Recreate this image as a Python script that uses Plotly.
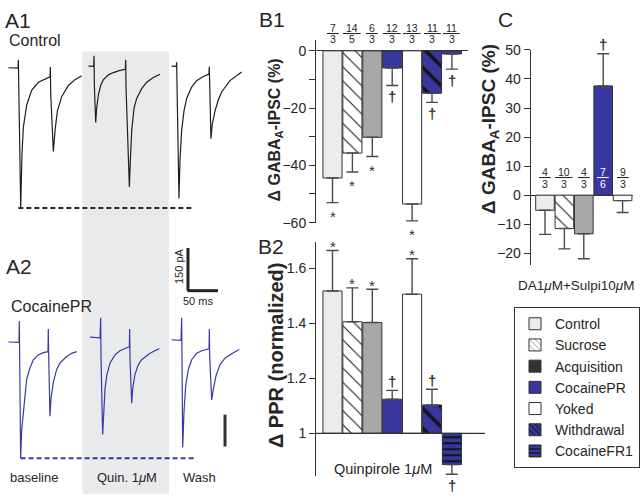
import plotly.graph_objects as go

W, H = 640, 502
def fx(px):
    return px / W
def fy(py):
    return 1 - py / H

FONT = "Liberation Sans, Arial, Helvetica, sans-serif"
TXT = "#262626"

# ------------------------------------------------------------------ data
GROUPS = ["Control", "Sucrose", "Acquisition", "CocainePR", "Yoked", "Withdrawal", "CocaineFR1"]

# B1: change of GABA-A IPSC by quinpirole (%)
B1_MEAN = [-44.4, -35.7, -30.2, -6.0, -53.5, -14.8, -1.1]
B1_SEM = [8.6, 6.6, 6.7, 6.1, 5.9, 3.2, 5.3]
B1_N = [("7", "3"), ("14", "5"), ("6", "3"), ("12", "3"), ("13", "3"), ("11", "3"), ("11", "3")]
B1_SIG = ["*", "*", "*", "†", "*", "†", "†"]

# B2: PPR normalized
B2_MEAN = [1.518, 1.406, 1.403, 1.124, 1.506, 1.103, 0.886]
B2_SEM = [0.147, 0.123, 0.121, 0.032, 0.129, 0.057, 0.035]
B2_SIG = ["*", "*", "*", "†", "*", "†", "†"]

# C: DA 1uM + sulpiride 10uM
C_GROUPS = ["Control", "Sucrose", "Acquisition", "CocainePR", "Yoked"]
C_MEAN = [-5.2, -11.5, -13.3, 37.6, -1.9]
C_SEM = [8.3, 7.0, 8.6, 11.1, 4.1]
C_N = [("4", "3"), ("10", "3"), ("4", "3"), ("7", "6"), ("9", "3")]
C_SIG = ["", "", "", "†", ""]

# A1 example sweeps (time in ms from first stimulus, current in pA)
A1_BASE_T = [-16.7, -0.6, 0, 0.6, 3.9, 6.1, 8.3, 13.9, 22.2, 33.3, 44.4, 52.8, 53.3, 53.9, 58.3, 61.1, 65.0, 72.2, 83.3, 94.4, 105.6]
A1_BASE_I = [0, -1.1, 28.4, -68.2, -494, -301, -210, -131, -79.5, -51.1, -39.8, -31.8, 2.3, -90.9, -295, -221.5, -153, -102, -62.5, -42.0, -28.4]
A1_QUIN_T = [-9.4, -0.6, 0, 0.6, 2.8, 4.4, 7.2, 11.1, 15.6, 23.9, 32.2, 43.3, 52.2, 52.8, 53.3, 56.1, 58.9, 60.6, 62.8, 66.7, 71.1, 79.4, 87.8, 98.9, 110.0]
A1_QUIN_I = [5.7, 4.5, 42.0, -62.5, -193, -142, -96.6, -62.5, -42.0, -25.0, -17.0, -9.1, -5.7, 28.4, -68.2, -244, -420, -324, -221.5, -142, -108, -73.8, -51.1, -34.1, -22.7]
A1_WASH_T = [-8.3, -0.6, 0, 0.6, 3.9, 5.6, 8.3, 12.2, 16.7, 25.0, 33.3, 44.4, 53.9, 54.4, 55.0, 57.2, 59.4, 63.9, 69.4, 75.0, 88.9, 100.0, 108.3]
A1_WASH_I = [5.7, 4.5, 19.3, -73.8, -460, -324, -221.5, -153, -108, -68.2, -45.4, -30.7, -22.7, 3.4, -85.2, -250, -199, -153, -113.6, -85.2, -45.4, -28.4, -14.8]

# A2 example sweeps (CocainePR)
A2_BASE_T = [-18.3, -0.6, 0, 0.6, 2.2, 3.9, 6.7, 9.4, 12.2, 17.8, 23.3, 31.7, 40.0, 47.8, 48.3, 48.9, 51.1, 52.8, 56.7, 62.2, 67.8, 78.9, 87.2, 95.6]
A2_BASE_I = [0, -1.1, 73.8, -62.5, -409, -312, -244, -176, -131, -91, -62.5, -45.4, -37.5, -34.1, 45.4, -45.4, -261, -199, -142, -96.6, -73.8, -51.1, -39.8, -34.1]
A2_QUIN_T = [-17.8, -1.1, 0, 0.6, 3.3, 5.0, 7.2, 10.0, 15.6, 23.9, 32.2, 40.6, 47.8, 48.3, 48.9, 51.7, 53.3, 57.2, 62.8, 68.3, 82.2, 97.8]
A2_QUIN_I = [17.0, 14.8, 85.2, -62.5, -326, -244, -165, -119, -73.8, -45.4, -30.7, -22.7, -17.0, 45.4, -62.5, -216, -165, -114, -79.5, -62.5, -39.8, -22.7]
A2_WASH_T = [-16.7, -1.1, 0, 0.6, 1.7, 3.9, 6.7, 11.1, 16.7, 25.0, 33.3, 45.6, 46.1, 46.7, 50.0, 52.8, 57.2, 63.9, 72.2, 86.1, 96.1]
A2_WASH_I = [8.0, 5.7, 85.2, -62.5, -371, -244, -153, -96.6, -62.5, -39.8, -30.7, -23.9, 45.4, -51.1, -204, -165, -119, -79.5, -56.8, -37.5, -26.1]

SCALE_MS = 50
SCALE_PA = 150
SWEEP_LABELS = ["baseline", "Quin. 1<i>μ</i>M", "Wash"]

# ------------------------------------------------------------------ styles
BLUE = "#37379f"
STYLE = {
    "Control":     dict(color="#ececec", shape="", fg="#111111", size=8, sol=0.2),
    "Sucrose":     dict(color="#ffffff", shape="\\", fg="#111111", size=10, sol=0.1),
    "Acquisition": dict(color="#a8a8a8", shape="", fg="#111111", size=8, sol=0.2),
    "CocainePR":   dict(color=BLUE, shape="", fg="#111111", size=8, sol=0.2),
    "Yoked":       dict(color="#ffffff", shape="", fg="#111111", size=8, sol=0.2),
    "Withdrawal":  dict(color=BLUE, shape="\\", fg="#151515", size=14, sol=0.26),
    "CocaineFR1":  dict(color=BLUE, shape="-", fg="#151515", size=6, sol=0.36),
}
LEGEND_COLOR = {"Acquisition": "#333333"}

MS_PER_PX = SCALE_MS / 30.0
PA_PER_PX = SCALE_PA / 44.0

fig = go.Figure()

# ------------------------------------------------------------------ A panels
A1_OFF = [30.6, 156.7, 294.4]
A2_OFF = [32.2, 167.8, 302.8]
a1 = [(A1_BASE_T, A1_BASE_I), (A1_QUIN_T, A1_QUIN_I), (A1_WASH_T, A1_WASH_I)]
a2 = [(A2_BASE_T, A2_BASE_I), (A2_QUIN_T, A2_QUIN_I), (A2_WASH_T, A2_WASH_I)]
for (t, i), off in zip(a1, A1_OFF):
    fig.add_trace(go.Scatter(x=[v + off for v in t], y=i, mode="lines",
                             line=dict(color="#1e1e1e", width=1.2),
                             xaxis="x", yaxis="y", showlegend=False, hoverinfo="skip"))
for (t, i), off in zip(a2, A2_OFF):
    fig.add_trace(go.Scatter(x=[v + off for v in t], y=i, mode="lines",
                             line=dict(color="#3a3aa2", width=1.2),
                             xaxis="x2", yaxis="y2", showlegend=False, hoverinfo="skip"))

shapes = []
# quinpirole application band
shapes.append(dict(type="rect", xref="x", yref="paper", x0=137.2, x1=281.7,
                   y0=0, y1=fy(45), fillcolor="#e9eaec", line=dict(width=0), layer="below"))
# dashed reference lines at baseline peak amplitude
shapes.append(dict(type="line", xref="x", yref="y", x0=30.6, x1=319.4,
                   y0=min(A1_BASE_I), y1=min(A1_BASE_I),
                   line=dict(color="#222222", width=2, dash="5px,3px")))
shapes.append(dict(type="line", xref="x2", yref="y2", x0=34.4, x1=327.8,
                   y0=min(A2_BASE_I), y1=min(A2_BASE_I),
                   line=dict(color="#3a3aa2", width=2, dash="5px,3px")))
# scale bars
sx0, sy0 = 313.3, 180.7
shapes.append(dict(type="line", xref="x2", yref="y2", x0=sx0, x1=sx0, y0=sy0, y1=sy0 + SCALE_PA,
                   line=dict(color="#222222", width=3)))
shapes.append(dict(type="line", xref="x2", yref="y2", x0=sx0 - 0.8, x1=sx0 + SCALE_MS, y0=sy0, y1=sy0,
                   line=dict(color="#222222", width=3)))
shapes.append(dict(type="line", xref="x2", yref="y2", x0=375, x1=375, y0=-255.7, y1=-368,
                   line=dict(color="#333333", width=3)))

# ------------------------------------------------------------------ bar panels
BX_C0, BX_STEP = 332.5, 19.9   # px of first bar centre / spacing (B panels)
CX_C0, CX_STEP = 545.0, 19.4


def pattern_of(s, size=None):
    return dict(shape=s["shape"], fgcolor=s["fg"], fgopacity=1,
                size=size if size else s["size"], solidity=s["sol"], fillmode="overlay")


def add_bars(groups, vals, sems, xa, ya, base=None):
    for i, (g, v, e) in enumerate(zip(groups, vals, sems)):
        r = v - base if base is not None else v
        s = STYLE[g]
        fig.add_trace(go.Bar(
            x=[i], y=[r], base=base, width=0.96,
            xaxis=xa, yaxis=ya, showlegend=False, hoverinfo="skip",
            marker=dict(color=s["color"], line=dict(color="#333333", width=1),
                        pattern=pattern_of(s)),
            error_y=dict(type="data", symmetric=False,
                         array=[e if r > 0 else 0], arrayminus=[e if r < 0 else 0],
                         color="#4a4a4a", thickness=1.4, width=6),
        ))


add_bars(GROUPS, B1_MEAN, B1_SEM, "x3", "y3")
add_bars(GROUPS, B2_MEAN, B2_SEM, "x4", "y4", base=1)
add_bars(C_GROUPS, C_MEAN, C_SEM, "x5", "y5")

# legend-only entries
for g in GROUPS:
    s = STYLE[g]
    fig.add_trace(go.Bar(
        x=[None], y=[None], name=g, xaxis="x3", yaxis="y3", showlegend=True,
        marker=dict(color=LEGEND_COLOR.get(g, s["color"]),
                    line=dict(color="#333333", width=1),
                    pattern=pattern_of(s, size=min(s["size"], 5))),
    ))

# line at PPR = 1
shapes.append(dict(type="line", xref="x4 domain", yref="y4", x0=0, x1=1, y0=1, y1=1,
                   line=dict(color="#333333", width=1.2)))

ann = []


def add_text(x, y, text, size, color=TXT, angle=0, xref="paper", yref="paper", **kw):
    ann.append(dict(x=x, y=y, xref=xref, yref=yref, text=text, showarrow=False,
                    xanchor="center", yanchor="middle",
                    textangle=angle, font=dict(family=FONT, size=size, color=color), **kw))


# panel letters and labels
add_text(fx(18), fy(12.5), "A1", 21)
add_text(fx(35), fy(34), "Control", 16)
add_text(fx(19), fy(267), "A2", 21)
add_text(fx(51), fy(308), "CocainePR", 16)
for xp, lab in zip([33.7, 127, 199.5], SWEEP_LABELS):
    add_text(fx(xp), fy(485), lab, 13)
add_text(fx(179), fy(266.5), f"{SCALE_PA} pA", 11, angle=-90)
add_text(fx(198), fy(302.5), f"{SCALE_MS} ms", 11)
add_text(fx(272), fy(12), "B1", 21)
add_text(fx(271), fy(246), "B2", 21)
add_text(fx(505), fy(12), "C", 21)

# y-axis titles
add_text(fx(275), fy(126.5), "<b>Δ GABA<sub>A</sub>-IPSC (%)</b>", 16, angle=-90)
add_text(fx(276), fy(358.5), "<b>Δ PPR (normalized)</b>", 20, angle=-90)
add_text(fx(490), fy(125), "<b>Δ GABA<sub>A</sub>-IPSC (%)</b>", 19, angle=-90)

add_text(fx(383), fy(476), "Quinpirole 1<i>μ</i>M", 14.5)
add_text(fx(576), fy(286.5), "DA1<i>μ</i>M+Sulpi10<i>μ</i>M", 13.5)


def frac(xa, idx, num, den, ynum, yden, color=TXT):
    add_text(idx, fy(ynum), "<u>\u00a0" + num + "\u00a0</u>", 10.5, color=color, xref=xa)
    add_text(idx, fy(yden), den, 10.5, color=color, xref=xa)


for i, (n, d) in enumerate(B1_N):
    frac("x3", i, n, d, 20.3, 32.5)
for i, (n, d) in enumerate(C_N):
    frac("x5", i, n, d, 169.3, 182.0, color="#ffffff" if C_MEAN[i] > 0 else TXT)


def sig_marks(xa, ya, vals, sems, sigs, base=0):
    for i, (v, e, s) in enumerate(zip(vals, sems, sigs)):
        if not s:
            continue
        if v >= base:
            yv = v + e
            shift = 4 if s == "*" else 9
        else:
            yv = v - e
            shift = -14 if s == "*" else -11
        label = "<b>" + s + "</b>" if s == "†" else s
        add_text(i, yv, label, 15, color="#333333", xref=xa, yref=ya, yshift=shift)


sig_marks("x3", "y3", B1_MEAN, B1_SEM, B1_SIG)
sig_marks("x4", "y4", B2_MEAN, B2_SEM, B2_SIG, base=1)
sig_marks("x5", "y5", C_MEAN, C_SEM, C_SIG)

# ------------------------------------------------------------------ axes
hidden = dict(visible=False, showgrid=False, zeroline=False)
tickfont = dict(family=FONT, size=14, color=TXT)
yax = dict(showgrid=False, showline=True, linecolor="#333333", linewidth=1,
           ticks="outside", ticklen=6, tickwidth=1, tickcolor="#333333", tickfont=tickfont)

fig.update_layout(
    width=W, height=H, autosize=False,
    margin=dict(l=0, r=0, t=0, b=0),
    paper_bgcolor="white", plot_bgcolor="rgba(0,0,0,0)",
    barmode="overlay",
    font=dict(family=FONT, color=TXT),
    xaxis=dict(hidden, domain=[0, fx(250)], range=[0, 250 * MS_PER_PX], anchor="y"),
    yaxis=dict(hidden, domain=[fy(230), fy(40)],
               range=[-(230 - 61.7) * PA_PER_PX, (61.7 - 40) * PA_PER_PX], anchor="x"),
    xaxis2=dict(hidden, domain=[0, fx(250)], range=[0, 250 * MS_PER_PX], anchor="y2"),
    yaxis2=dict(hidden, domain=[fy(500), fy(240)],
                range=[-(500 - 345) * PA_PER_PX, (345 - 240) * PA_PER_PX], anchor="x2"),
    xaxis3=dict(hidden, domain=[fx(316), fx(468)],
                range=[(316 - BX_C0) / BX_STEP, (468 - BX_C0) / BX_STEP], anchor="y3"),
    yaxis3=dict(yax, domain=[fy(221.7), fy(33)], range=[-60, 3.8], anchor="x3",
                tickmode="linear", tick0=0, dtick=20,
                minor=dict(dtick=10, ticks="outside", ticklen=6, tickcolor="#333333"),
                zeroline=True, zerolinecolor="#333333", zerolinewidth=1.2),
    xaxis4=dict(hidden, domain=[fx(316), fx(485)],
                range=[(316 - BX_C0) / BX_STEP, (485 - BX_C0) / BX_STEP], anchor="y4"),
    yaxis4=dict(yax, domain=[fy(483), fy(242)], range=[0.846, 1.695], anchor="x4",
                tickmode="array", tickvals=[1, 1.2, 1.4, 1.6], ticktext=["1", "1.2", "1.4", "1.6"],
                zeroline=False),
    xaxis5=dict(hidden, domain=[fx(530.7), fx(633)],
                range=[(530.7 - CX_C0) / CX_STEP, (633 - CX_C0) / CX_STEP], anchor="y5"),
    yaxis5=dict(yax, domain=[fy(265), fy(43.3)], range=[-23.9, 50], anchor="x5",
                tickmode="linear", tick0=0, dtick=10,
                zeroline=True, zerolinecolor="#333333", zerolinewidth=1.2),
    legend=dict(x=fx(514), y=fy(309), xanchor="left", yanchor="top",
                bordercolor="#333333", borderwidth=1, bgcolor="white",
                font=dict(family=FONT, size=14, color=TXT),
                traceorder="normal", tracegroupgap=0, itemclick=False, itemdoubleclick=False),
    shapes=shapes,
    annotations=ann,
)

fig.write_html("out.html", config={"displayModeBar": False},
               post_script="document.body.style.margin='0';")
